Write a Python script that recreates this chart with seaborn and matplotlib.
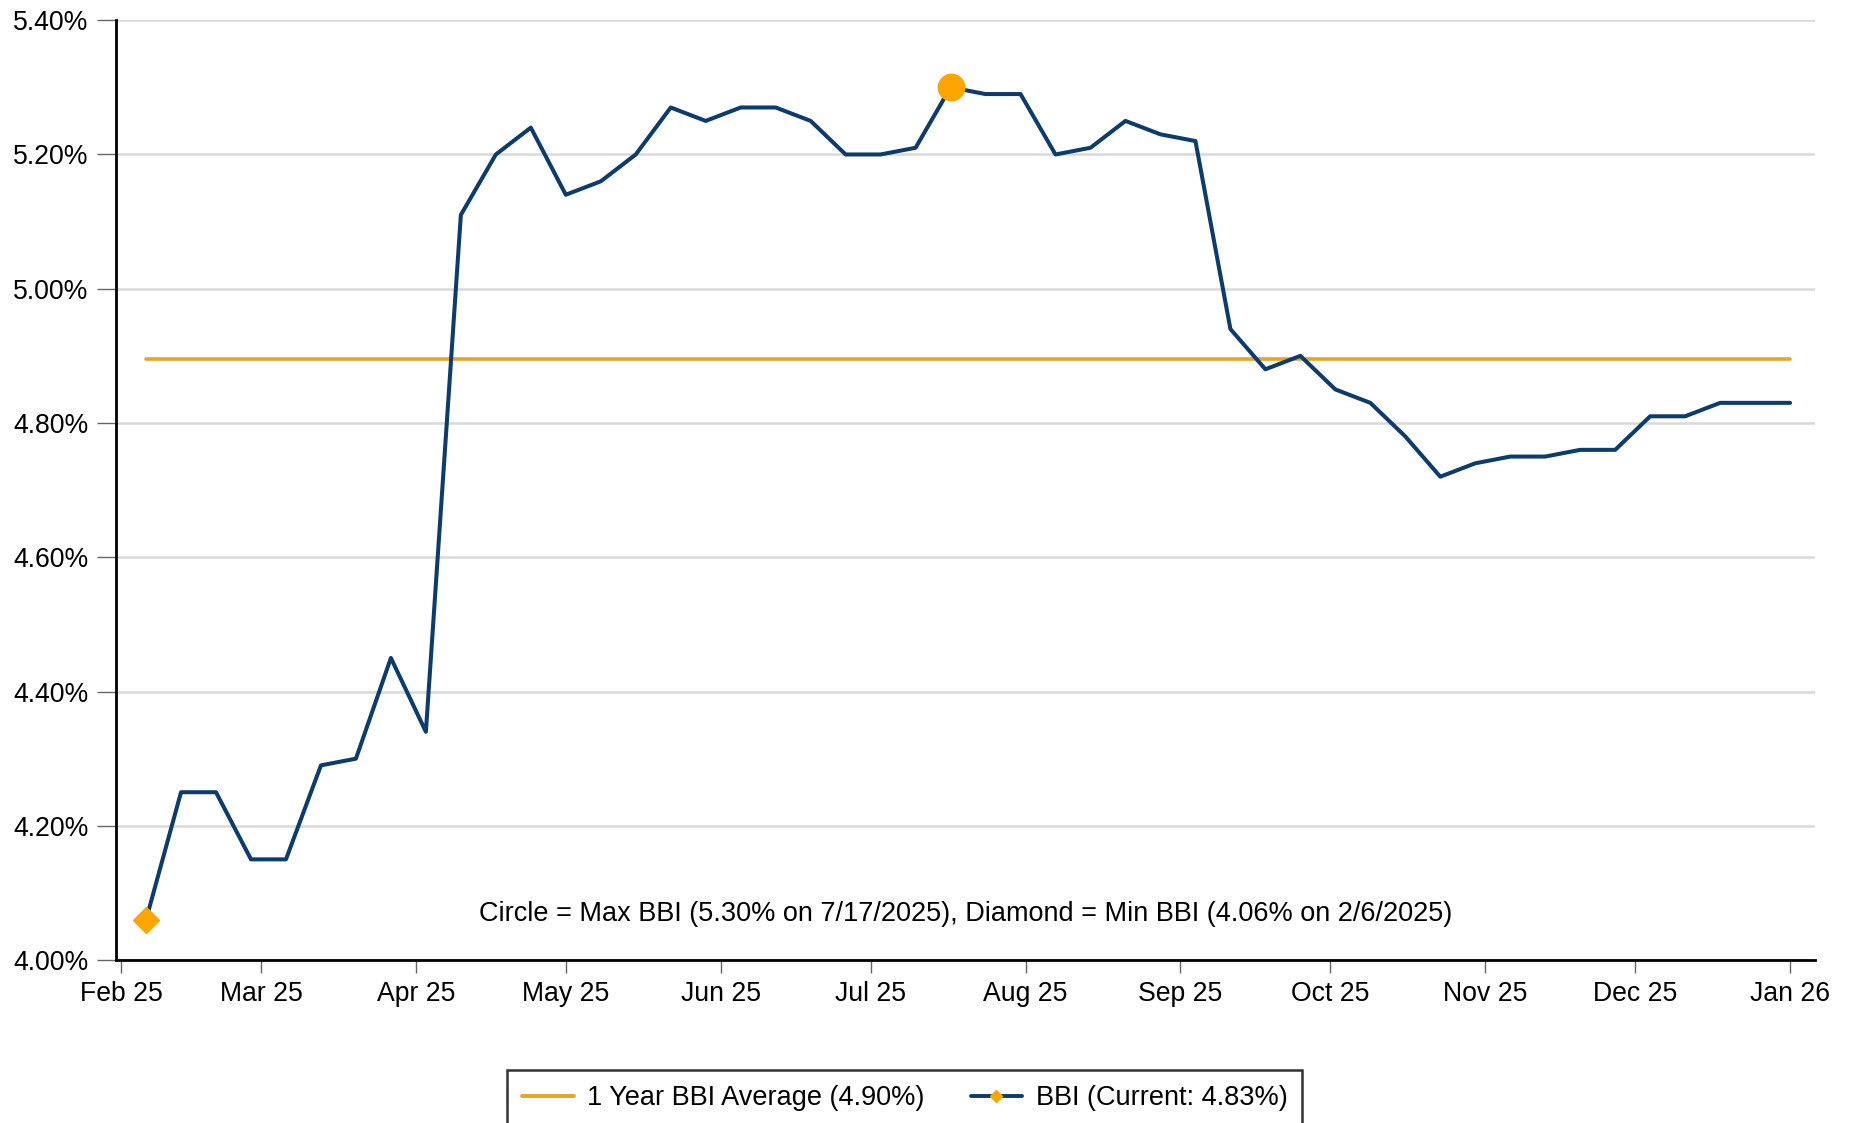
import pandas as pd
import numpy as np
import matplotlib
matplotlib.use('Agg')
import matplotlib.pyplot as plt
import matplotlib.dates as mdates
from matplotlib.lines import Line2D
from matplotlib.ticker import FuncFormatter
import seaborn as sns

# weekly BBI readings (%), Thursdays from 2/6/2025
start_date = '2025-02-06'
bbi = [4.06, 4.25, 4.25, 4.15, 4.15, 4.29, 4.30, 4.45, 4.34, 5.11,
       5.20, 5.24, 5.14, 5.16, 5.20, 5.27, 5.25, 5.27, 5.27, 5.25,
       5.20, 5.20, 5.21, 5.30, 5.29, 5.29, 5.20, 5.21, 5.25, 5.23,
       5.22, 4.94, 4.88, 4.90, 4.85, 4.83, 4.78, 4.72, 4.74, 4.75,
       4.75, 4.76, 4.76, 4.81, 4.81, 4.83, 4.83, 4.83]
avg_bbi = 4.895
y_ticks = [4.00, 4.20, 4.40, 4.60, 4.80, 5.00, 5.20, 5.40]
note = 'Circle = Max BBI (5.30% on 7/17/2025), Diamond = Min BBI (4.06% on 2/6/2025)'
avg_label = '1 Year BBI Average (4.90%)'
bbi_label = 'BBI (Current: 4.83%)'

dates = pd.date_range(start_date, periods=len(bbi), freq='7D')
df = pd.DataFrame({'date': dates, 'bbi': bbi, 'avg': avg_bbi})
i_max = df['bbi'].idxmax()
i_min = df['bbi'].idxmin()

blue = '#0B3B6F'
gold = '#E8A524'
orange = '#FFA500'

sns.set_style('white')
plt.rcParams['font.family'] = ['Liberation Sans', 'DejaVu Sans']
plt.rcParams['text.color'] = 'black'
plt.rcParams['xtick.labelcolor'] = 'black'
plt.rcParams['ytick.labelcolor'] = 'black'

fig = plt.figure(figsize=(18.54, 11.23), dpi=100)
ax = fig.add_axes([0.0626, 0.1451, 0.9164, 0.8369])

sns.lineplot(data=df, x='date', y='avg', color=gold, linewidth=2.6, ax=ax)
sns.lineplot(data=df, x='date', y='bbi', color=blue, linewidth=2.9, ax=ax)
ax.plot(df.loc[i_max, 'date'], df.loc[i_max, 'bbi'], 'o', color=orange,
        markersize=19, zorder=5)
ax.plot(df.loc[i_min, 'date'], df.loc[i_min, 'bbi'], 'D', color=orange,
        markersize=13, zorder=5)

ax.set_ylim(4.0, 5.4)
ax.set_yticks(y_ticks)
ax.yaxis.set_major_formatter(FuncFormatter(lambda v, p: f'{v:.2f}%'))
ax.set_xlim(pd.Timestamp('2025-01-31'), pd.Timestamp('2026-01-06'))
ax.xaxis.set_major_locator(mdates.MonthLocator())
ax.xaxis.set_major_formatter(mdates.DateFormatter('%b %y'))
ax.set_xlabel('')
ax.set_ylabel('')

ax.grid(axis='y', color='#D9D9D9', linewidth=1.8)
ax.set_axisbelow(True)
for s in ['top', 'right']:
    ax.spines[s].set_visible(False)
for s in ['left', 'bottom']:
    ax.spines[s].set_color('black')
    ax.spines[s].set_linewidth(2)
ax.tick_params(axis='both', which='major', direction='out', width=1,
               color='#666666', labelsize=19.2, left=True, bottom=True)
ax.tick_params(axis='y', length=14, pad=6)
ax.tick_params(axis='x', length=9, pad=6)

ax.text(0.5, 0.049, note, transform=ax.transAxes, ha='center', va='center',
        fontsize=19.5, color='black')

handles = [Line2D([], [], color=gold, linewidth=2.8),
           Line2D([], [], color=blue, linewidth=2.8, marker='D',
                  markersize=6, markerfacecolor=orange, markeredgecolor=orange)]
leg = fig.legend(handles, [avg_label, bbi_label], loc='upper center',
                 bbox_to_anchor=(0.488, 0.047), ncol=2, fontsize=19.5,
                 frameon=True, fancybox=False, borderpad=0.55,
                 borderaxespad=0, handlelength=1.9, handletextpad=0.5,
                 columnspacing=1.7)
leg.get_frame().set_edgecolor('black')
leg.get_frame().set_linewidth(1.8)

plt.savefig('out.png', dpi=100)
